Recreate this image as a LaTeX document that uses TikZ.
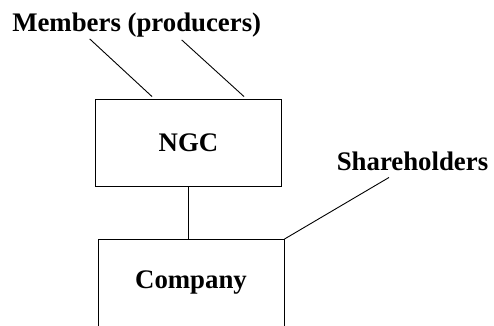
\documentclass[tikz,border=0pt]{standalone}
\usepackage{fontspec}
\setmainfont{Liberation Serif}
\tikzset{
    label text/.style={font=\fontsize{26.8}{30}\selectfont\bfseries, inner sep=0pt},
    entity box/.style={draw, line width=0.9pt, minimum width=186pt, minimum height=87pt,
        font=\fontsize{26.8}{30}\selectfont\bfseries},
    link/.style={line width=0.9pt}
}
\begin{document}
\begin{tikzpicture}[x=1pt,y=-1pt]
    \useasboundingbox (0,0) rectangle (494,325);
    \node[entity box] (ngc) at (188.5,142.5) {NGC};
    \node[entity box] (company) at (191,283) {Company};
    \node[label text, anchor=base] (members) at (136.7,31) {Members (producers)};
    \node[label text, anchor=base] (shareholders) at (412.5,170) {Shareholders};
    \draw[link] ([xshift=-47pt,yshift=-2pt]members.south) -- ([xshift=-36.5pt,yshift=2pt]ngc.north);
    \draw[link] ([xshift=45pt,yshift=-3pt]members.south) -- ([xshift=55.5pt,yshift=2pt]ngc.north);
    \draw[link] ([xshift=-23.5pt,yshift=-7pt]shareholders.south) -- (company.north east);
    \draw[link] (ngc.south) -- (ngc.south |- company.north);
\end{tikzpicture}
\end{document}
